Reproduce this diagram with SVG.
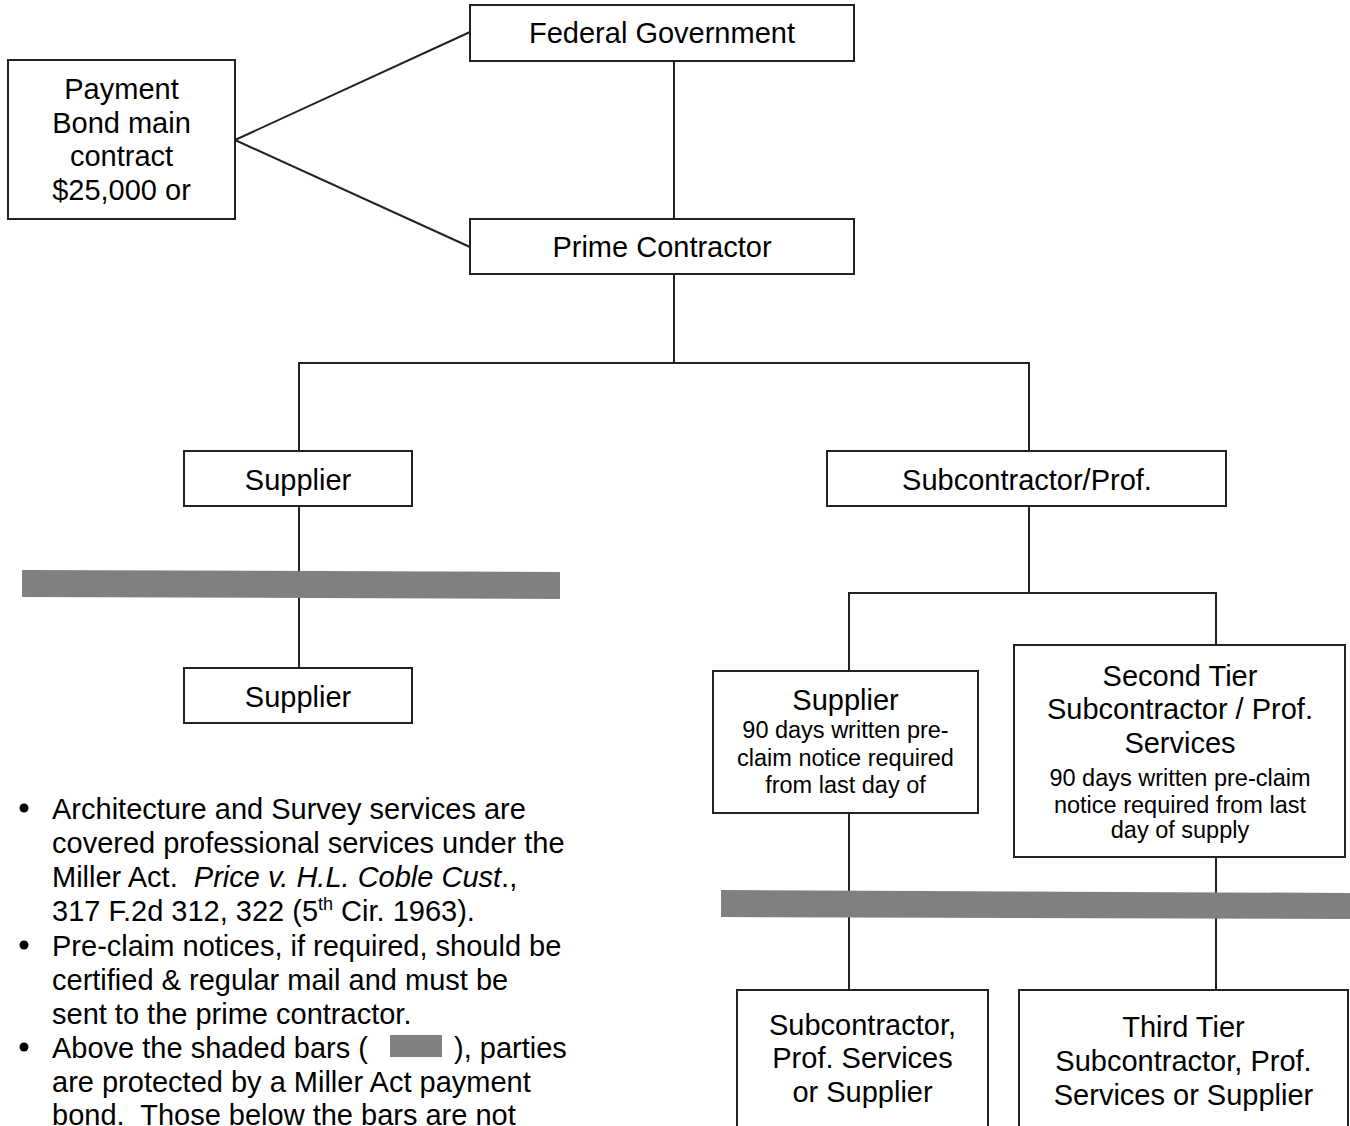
<svg xmlns="http://www.w3.org/2000/svg" width="1350" height="1126" viewBox="0 0 1350 1126">
<style>
text{font-family:"Liberation Sans",Arial,sans-serif;fill:#000;}
.lbl{font-size:29px;text-anchor:middle;}
.sm{font-size:23.5px;text-anchor:middle;}
.note{font-size:29px;}
.box{fill:#fff;stroke:#222;stroke-width:2;}
.con{stroke:#222;stroke-width:2;fill:none;}
.bar{fill:#808080;}
</style>
<rect width="1350" height="1126" fill="#fff"/>
<g id="connectors">
<line class="con" x1="235" y1="140" x2="470" y2="32"/>
<line class="con" x1="235" y1="140" x2="470" y2="247"/>
<line class="con" x1="674" y1="61" x2="674" y2="219"/>
<line class="con" x1="674" y1="274" x2="674" y2="363"/>
<polyline class="con" points="299,451 299,363 1029,363 1029,451"/>
<line class="con" x1="299" y1="506" x2="299" y2="668"/>
<line class="con" x1="1029" y1="506" x2="1029" y2="593"/>
<polyline class="con" points="849,671 849,593 1216,593 1216,645"/>
<line class="con" x1="849" y1="813" x2="849" y2="990"/>
<line class="con" x1="1216" y1="857" x2="1216" y2="990"/>
</g>
<g id="bars">
<polygon class="bar" points="22,570 560,572 560,599 22,597"/>
<polygon class="bar" points="721,890 1350,893 1350,919 721,917"/>
</g>
<g id="federal-government">
<rect class="box" x="470" y="5" width="384" height="56"/>
<text class="lbl" x="662" y="43">Federal Government</text>
</g>
<g id="payment-bond">
<rect class="box" x="8" y="60" width="227" height="159"/>
<text class="lbl" x="121.5" y="99">Payment</text>
<text class="lbl" x="121.5" y="133">Bond main</text>
<text class="lbl" x="121.5" y="166">contract</text>
<text class="lbl" x="121.5" y="200">$25,000 or</text>
</g>
<g id="prime-contractor">
<rect class="box" x="470" y="219" width="384" height="55"/>
<text class="lbl" x="662" y="257">Prime Contractor</text>
</g>
<g id="supplier-1">
<rect class="box" x="184" y="451" width="228" height="55"/>
<text class="lbl" x="298" y="490">Supplier</text>
</g>
<g id="subcontractor-prof">
<rect class="box" x="827" y="451" width="399" height="55"/>
<text class="lbl" x="1027" y="490">Subcontractor/Prof.</text>
</g>
<g id="supplier-2">
<rect class="box" x="184" y="668" width="228" height="55"/>
<text class="lbl" x="298" y="707">Supplier</text>
</g>
<g id="supplier-3">
<rect class="box" x="713" y="671" width="265" height="142"/>
<text class="lbl" x="845.5" y="710">Supplier</text>
<text class="sm" x="845.5" y="738">90 days written pre-</text>
<text class="sm" x="845.5" y="766">claim notice required</text>
<text class="sm" x="845.5" y="793">from last day of</text>
</g>
<g id="second-tier">
<rect class="box" x="1014" y="645" width="331" height="212"/>
<text class="lbl" x="1180" y="686">Second Tier</text>
<text class="lbl" x="1180" y="719">Subcontractor / Prof.</text>
<text class="lbl" x="1180" y="753">Services</text>
<text class="sm" x="1180" y="786">90 days written pre-claim</text>
<text class="sm" x="1180" y="813">notice required from last</text>
<text class="sm" x="1180" y="838">day of supply</text>
</g>
<g id="sub-prof-supplier">
<rect class="box" x="737" y="990" width="251" height="150"/>
<text class="lbl" x="862.5" y="1035">Subcontractor,</text>
<text class="lbl" x="862.5" y="1068">Prof. Services</text>
<text class="lbl" x="862.5" y="1102">or Supplier</text>
</g>
<g id="third-tier">
<rect class="box" x="1019" y="990" width="329" height="150"/>
<text class="lbl" x="1183.5" y="1037">Third Tier</text>
<text class="lbl" x="1183.5" y="1071">Subcontractor, Prof.</text>
<text class="lbl" x="1183.5" y="1105">Services or Supplier</text>
</g>
<g id="notes">
<circle cx="24" cy="808" r="4.5" fill="#000"/>
<circle cx="24" cy="945" r="4.5" fill="#000"/>
<circle cx="24" cy="1047" r="4.5" fill="#000"/>
<text class="note" x="52" y="819">Architecture and Survey services are</text>
<text class="note" x="52" y="853">covered professional services under the</text>
<text class="note" x="52" y="887" xml:space="preserve">Miller Act.  <tspan font-style="italic">Price v. H.L. Coble Cust</tspan>.,</text>
<text class="note" x="52" y="921">317 F.2d 312, 322 (5<tspan font-size="18" dy="-11">th</tspan><tspan dy="11"> Cir. 1963).</tspan></text>
<text class="note" x="52" y="956">Pre-claim notices, if required, should be</text>
<text class="note" x="52" y="990">certified &amp; regular mail and must be</text>
<text class="note" x="52" y="1024">sent to the prime contractor.</text>
<text class="note" x="52" y="1058">Above the shaded bars (</text>
<rect class="bar" x="390" y="1035" width="52" height="22"/>
<text class="note" x="454" y="1058">), parties</text>
<text class="note" x="52" y="1092">are protected by a Miller Act payment</text>
<text class="note" x="52" y="1125" xml:space="preserve">bond.  Those below the bars are not</text>
</g>
</svg>
